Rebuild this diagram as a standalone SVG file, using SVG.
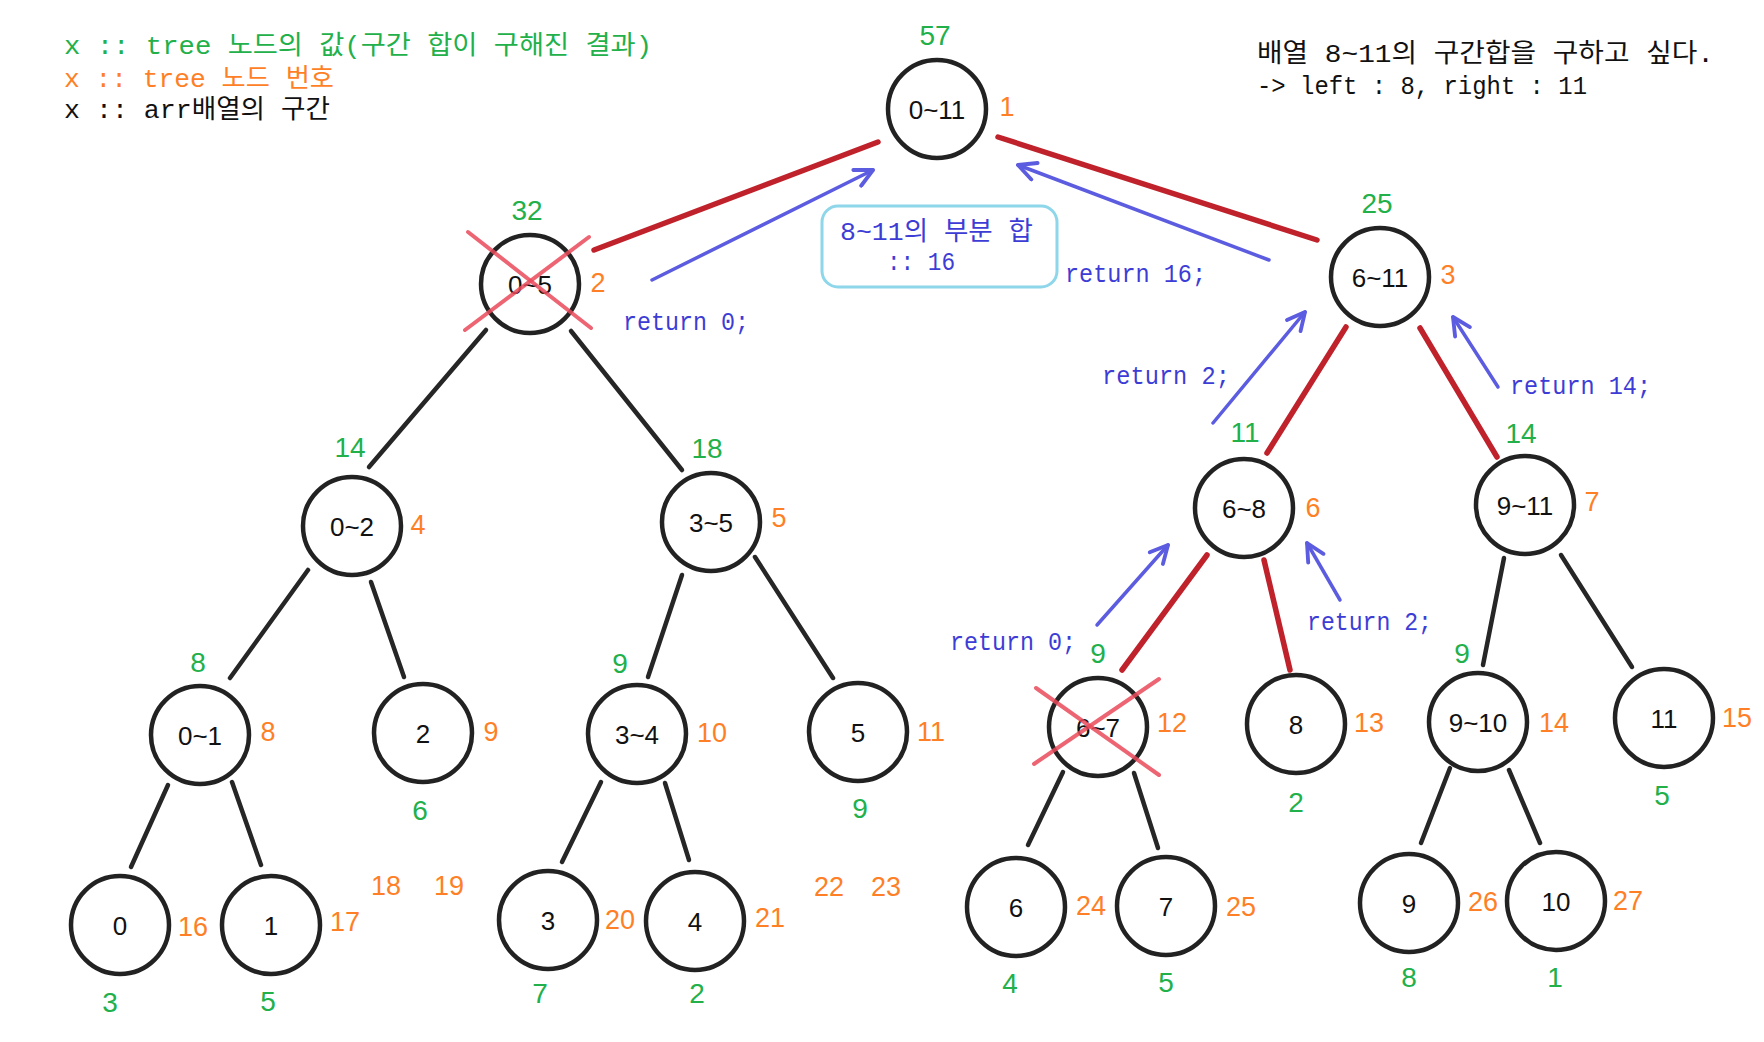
<svg xmlns="http://www.w3.org/2000/svg" width="1764" height="1042" viewBox="0 0 1764 1042">
<defs>
<style>
text{font-family:"Liberation Mono","Noto Sans CJK KR",monospace;dominant-baseline:central}
.c{fill:#fff;stroke:#222;stroke-width:4.5}
.n{fill:#111;font-family:"Liberation Sans",sans-serif;font-size:26px;text-anchor:middle}
.g{fill:#22b04a;font-family:"Liberation Sans",sans-serif;font-size:28px;text-anchor:middle}
.o{fill:#ff7f27;font-family:"Liberation Sans",sans-serif;font-size:27px;text-anchor:middle}
.b{fill:#3d3dd6;font-size:26px}
.k{fill:#111;font-size:26px}
.e{stroke:#262626;stroke-width:4.5;stroke-linecap:round;fill:none}
.r{stroke:#c0222c;stroke-width:5.5;stroke-linecap:round;fill:none}
.a{stroke:#5c5ce0;stroke-width:3.5;stroke-linecap:round;fill:none;marker-end:url(#ah)}
.x{stroke:#ea4a5a;stroke-width:4;stroke-opacity:0.85;stroke-linecap:round}
</style>
<marker id="ah" viewBox="0 0 20 20" refX="18" refY="10" markerWidth="22" markerHeight="22" markerUnits="userSpaceOnUse" orient="auto">
<path d="M2,2 L18,10 L2,18" fill="none" stroke="#5c5ce0" stroke-width="3.5" stroke-linecap="round" stroke-linejoin="round"/>
</marker>
</defs>
<rect width="1764" height="1042" fill="#fff"/>

<g id="legend">
<text x="64" y="47" fill="#22b04a" font-size="26" textLength="588" lengthAdjust="spacingAndGlyphs">x :: tree 노드의 값(구간 합이 구해진 결과)</text>
<text x="64" y="80" fill="#ff7f27" font-size="26" textLength="270" lengthAdjust="spacingAndGlyphs">x :: tree 노드 번호</text>
<text x="64" y="111" fill="#111" font-size="26" textLength="266" lengthAdjust="spacingAndGlyphs">x :: arr배열의 구간</text>
</g>

<g id="note">
<text class="k" x="1257" y="55" textLength="457" lengthAdjust="spacingAndGlyphs">배열 8~11의 구간합을 구하고 싶다.</text>
<text class="k" x="1257" y="87" textLength="330" lengthAdjust="spacingAndGlyphs">-&gt; left : 8, right : 11</text>
</g>

<g id="connectors">
<line class="r" x1="878" y1="142" x2="594" y2="250"/>
<line class="r" x1="998" y1="137" x2="1317" y2="240"/>
<line class="e" x1="486" y1="330" x2="369" y2="467"/>
<line class="e" x1="571" y1="331" x2="682" y2="470"/>
<line class="r" x1="1346" y1="327" x2="1267" y2="453"/>
<line class="r" x1="1420" y1="328" x2="1497" y2="457"/>
<line class="e" x1="308" y1="570" x2="230" y2="678"/>
<line class="e" x1="371" y1="582" x2="404" y2="677"/>
<line class="e" x1="682" y1="575" x2="648" y2="677"/>
<line class="e" x1="755" y1="557" x2="833" y2="678"/>
<line class="r" x1="1207" y1="555" x2="1122" y2="670"/>
<line class="r" x1="1264" y1="560" x2="1290" y2="670"/>
<line class="e" x1="1504" y1="558" x2="1483" y2="665"/>
<line class="e" x1="1561" y1="555" x2="1632" y2="667"/>
<line class="e" x1="168" y1="785" x2="131" y2="867"/>
<line class="e" x1="232" y1="782" x2="261" y2="865"/>
<line class="e" x1="601" y1="782" x2="562" y2="862"/>
<line class="e" x1="665" y1="783" x2="689" y2="860"/>
<line class="e" x1="1063" y1="772" x2="1028" y2="845"/>
<line class="e" x1="1134" y1="773" x2="1158" y2="848"/>
<line class="e" x1="1450" y1="768" x2="1421" y2="843"/>
<line class="e" x1="1509" y1="770" x2="1540" y2="843"/>

<line class="a" x1="652" y1="280" x2="873" y2="170"/>
<line class="a" x1="1269" y1="260" x2="1018" y2="165"/>
<line class="a" x1="1213" y1="423" x2="1305" y2="312"/>
<line class="a" x1="1498" y1="387" x2="1453" y2="317"/>
<line class="a" x1="1097" y1="625" x2="1168" y2="545"/>
<line class="a" x1="1340" y1="600" x2="1307" y2="543"/>
</g>

<g id="sumbox">
<rect x="822" y="206" width="235" height="81" rx="16" fill="none" stroke="#8ed6ea" stroke-width="3"/>
<text class="b" x="840" y="233" textLength="193" lengthAdjust="spacingAndGlyphs">8~11의 부분 합</text>
<text class="b" x="887" y="263" textLength="68" lengthAdjust="spacingAndGlyphs">:: 16</text>
</g>

<g id="returns">
<text class="b" x="623" y="323" textLength="126" lengthAdjust="spacingAndGlyphs">return 0;</text>
<text class="b" x="1065" y="275" textLength="141" lengthAdjust="spacingAndGlyphs">return 16;</text>
<text class="b" x="1102" y="377" textLength="128" lengthAdjust="spacingAndGlyphs">return 2;</text>
<text class="b" x="1510" y="387" textLength="141" lengthAdjust="spacingAndGlyphs">return 14;</text>
<text class="b" x="950" y="643" textLength="126" lengthAdjust="spacingAndGlyphs">return 0;</text>
<text class="b" x="1307" y="623" textLength="125" lengthAdjust="spacingAndGlyphs">return 2;</text>
</g>

<g id="node1"><circle class="c" cx="937" cy="109" r="49"/><text class="n" x="937" y="110">0~11</text><text class="g" x="935" y="35">57</text><text class="o" x="1007" y="107">1</text></g>
<g id="node2"><circle class="c" cx="530" cy="284" r="49"/><text class="n" x="530" y="285">0~5</text><text class="g" x="527" y="210">32</text><text class="o" x="598" y="283">2</text>
<line class="x" x1="468" y1="232" x2="591" y2="328"/><line class="x" x1="589" y1="237" x2="465" y2="330"/></g>
<g id="node3"><circle class="c" cx="1380" cy="277" r="49"/><text class="n" x="1380" y="278">6~11</text><text class="g" x="1377" y="203">25</text><text class="o" x="1448" y="275">3</text></g>
<g id="node4"><circle class="c" cx="352" cy="526" r="49"/><text class="n" x="352" y="527">0~2</text><text class="g" x="350" y="447">14</text><text class="o" x="418" y="525">4</text></g>
<g id="node5"><circle class="c" cx="711" cy="522" r="49"/><text class="n" x="711" y="523">3~5</text><text class="g" x="707" y="448">18</text><text class="o" x="779" y="518">5</text></g>
<g id="node6"><circle class="c" cx="1244" cy="508" r="49"/><text class="n" x="1244" y="509">6~8</text><text class="g" x="1245" y="432">11</text><text class="o" x="1313" y="508">6</text></g>
<g id="node7"><circle class="c" cx="1525" cy="505" r="49"/><text class="n" x="1525" y="506">9~11</text><text class="g" x="1521" y="433">14</text><text class="o" x="1592" y="502">7</text></g>
<g id="node8"><circle class="c" cx="200" cy="735" r="49"/><text class="n" x="200" y="736">0~1</text><text class="g" x="198" y="662">8</text><text class="o" x="268" y="732">8</text></g>
<g id="node9"><circle class="c" cx="423" cy="733" r="49"/><text class="n" x="423" y="734">2</text><text class="g" x="420" y="810">6</text><text class="o" x="491" y="732">9</text></g>
<g id="node10"><circle class="c" cx="637" cy="734" r="49"/><text class="n" x="637" y="735">3~4</text><text class="g" x="620" y="663">9</text><text class="o" x="712" y="733">10</text></g>
<g id="node11"><circle class="c" cx="858" cy="732" r="49"/><text class="n" x="858" y="733">5</text><text class="g" x="860" y="808">9</text><text class="o" x="931" y="732">11</text></g>
<g id="node12"><circle class="c" cx="1098" cy="727" r="49"/><text class="n" x="1098" y="728">6~7</text><text class="g" x="1098" y="653">9</text><text class="o" x="1172" y="723">12</text>
<line class="x" x1="1036" y1="688" x2="1159" y2="775"/><line class="x" x1="1159" y1="679" x2="1034" y2="764"/></g>
<g id="node13"><circle class="c" cx="1296" cy="724" r="49"/><text class="n" x="1296" y="725">8</text><text class="g" x="1296" y="802">2</text><text class="o" x="1369" y="723">13</text></g>
<g id="node14"><circle class="c" cx="1478" cy="722" r="49"/><text class="n" x="1478" y="723">9~10</text><text class="g" x="1462" y="653">9</text><text class="o" x="1554" y="723">14</text></g>
<g id="node15"><circle class="c" cx="1664" cy="718" r="49"/><text class="n" x="1664" y="719">11</text><text class="g" x="1662" y="795">5</text><text class="o" x="1737" y="718">15</text></g>
<g id="node16"><circle class="c" cx="120" cy="925" r="49"/><text class="n" x="120" y="926">0</text><text class="g" x="110" y="1002">3</text><text class="o" x="193" y="927">16</text></g>
<g id="node17"><circle class="c" cx="271" cy="925" r="49"/><text class="n" x="271" y="926">1</text><text class="g" x="268" y="1001">5</text><text class="o" x="345" y="922">17</text></g>
<g id="node18"><text class="o" x="386" y="886">18</text></g>
<g id="node19"><text class="o" x="449" y="886">19</text></g>
<g id="node20"><circle class="c" cx="548" cy="920" r="49"/><text class="n" x="548" y="921">3</text><text class="g" x="540" y="993">7</text><text class="o" x="620" y="920">20</text></g>
<g id="node21"><circle class="c" cx="695" cy="921" r="49"/><text class="n" x="695" y="922">4</text><text class="g" x="697" y="993">2</text><text class="o" x="770" y="918">21</text></g>
<g id="node22"><text class="o" x="829" y="887">22</text></g>
<g id="node23"><text class="o" x="886" y="887">23</text></g>
<g id="node24"><circle class="c" cx="1016" cy="907" r="49"/><text class="n" x="1016" y="908">6</text><text class="g" x="1010" y="983">4</text><text class="o" x="1091" y="906">24</text></g>
<g id="node25"><circle class="c" cx="1166" cy="906" r="49"/><text class="n" x="1166" y="907">7</text><text class="g" x="1166" y="982">5</text><text class="o" x="1241" y="907">25</text></g>
<g id="node26"><circle class="c" cx="1409" cy="903" r="49"/><text class="n" x="1409" y="904">9</text><text class="g" x="1409" y="977">8</text><text class="o" x="1483" y="902">26</text></g>
<g id="node27"><circle class="c" cx="1556" cy="901" r="49"/><text class="n" x="1556" y="902">10</text><text class="g" x="1555" y="977">1</text><text class="o" x="1628" y="901">27</text></g>
</svg>
